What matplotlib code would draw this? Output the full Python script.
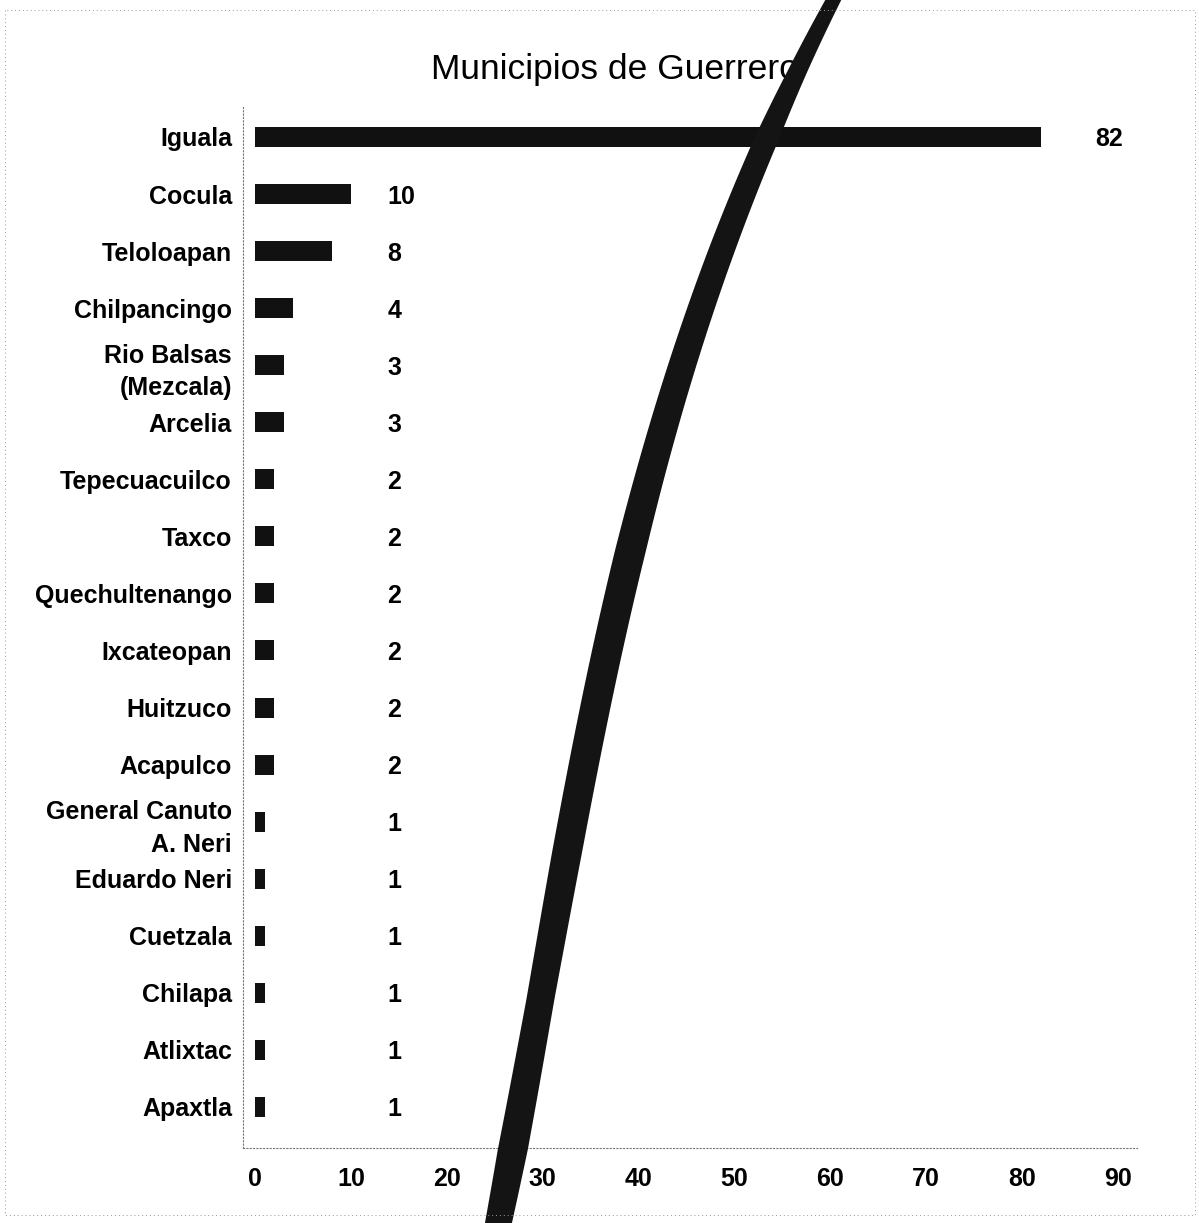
import matplotlib.pyplot as plt
import numpy as np

plt.rcParams['font.family'] = ['Liberation Sans', 'DejaVu Sans']

municipios = ['Iguala', 'Cocula', 'Teloloapan', 'Chilpancingo', 'Rio Balsas\n(Mezcala)',
              'Arcelia', 'Tepecuacuilco', 'Taxco', 'Quechultenango', 'Ixcateopan',
              'Huitzuco', 'Acapulco', 'General Canuto\nA. Neri', 'Eduardo Neri',
              'Cuetzala', 'Chilapa', 'Atlixtac', 'Apaxtla']
casos = [82, 10, 8, 4, 3, 3, 2, 2, 2, 2, 2, 2, 1, 1, 1, 1, 1, 1]
x_ticks = [0, 10, 20, 30, 40, 50, 60, 70, 80, 90]

# pen stroke across the page, pixel coords: y, centre, width
trazo_y = [0, 70, 137, 250, 550, 850, 1000, 1150, 1223]
trazo_x = [832, 800, 768, 720, 631, 568, 540, 512, 499]
trazo_w = [16, 20, 25, 27, 31, 30, 28, 30, 27]

W, H = 1199, 1223
fig = plt.figure(figsize=(W / 100, H / 100), dpi=100)
ax = fig.add_axes([243 / W, 1 - 1148 / H, (1137 - 243) / W, (1148 - 107) / H])

y = np.arange(len(municipios))
ax.barh(y, casos, height=0.35, color='#111111')
for yi, v in zip(y, casos):
    lx = 13.8 if v + 3 < 13.8 else v + 5.6
    ax.text(lx, yi, str(v), va='center_baseline', ha='left', fontsize=18,
            fontweight='bold')

ax.set_yticks(y)
ax.set_yticklabels(municipios, fontsize=18, fontweight='bold', linespacing=1.45)
ax.set_xticks(x_ticks)
ax.set_xticklabels([str(t) for t in x_ticks], fontsize=18, fontweight='bold')
ax.set_xlim(-1.25, 92)
ax.set_ylim(len(municipios) - 0.28, -0.525)
ax.tick_params(axis='both', length=0)
ax.tick_params(axis='y', pad=8)
ax.tick_params(axis='x', pad=14)
for s in ['top', 'right']:
    ax.spines[s].set_visible(False)
for s in ['left', 'bottom']:
    ax.spines[s].set_linestyle((0, (1, 2)))
    ax.spines[s].set_color('#777777')
    ax.spines[s].set_linewidth(0.8)

fig.text(615 / W, 1 - 70 / H, 'Municipios de Guerrero', ha='center', va='center',
         fontsize=25.5)

# overlay in pixel coords: faint dotted page border and the pen stroke
capa = fig.add_axes([0, 0, 1, 1], zorder=5)
capa.set_xlim(0, W)
capa.set_ylim(H, 0)
capa.axis('off')
capa.plot([5, 5, 1195, 1195, 5], [10, 1215, 1215, 10, 10], ls=(0, (1, 3)),
          color='#999999', lw=0.7)

yy = np.linspace(0, H, 200)
centro = np.polyval(np.polyfit(trazo_y, trazo_x, 3), yy)
ancho = np.interp(yy, trazo_y, trazo_w)
capa.fill_betweenx(yy, centro - ancho / 2, centro + ancho / 2, color='#141414', lw=0)

fig.savefig('out.png', dpi=100)
